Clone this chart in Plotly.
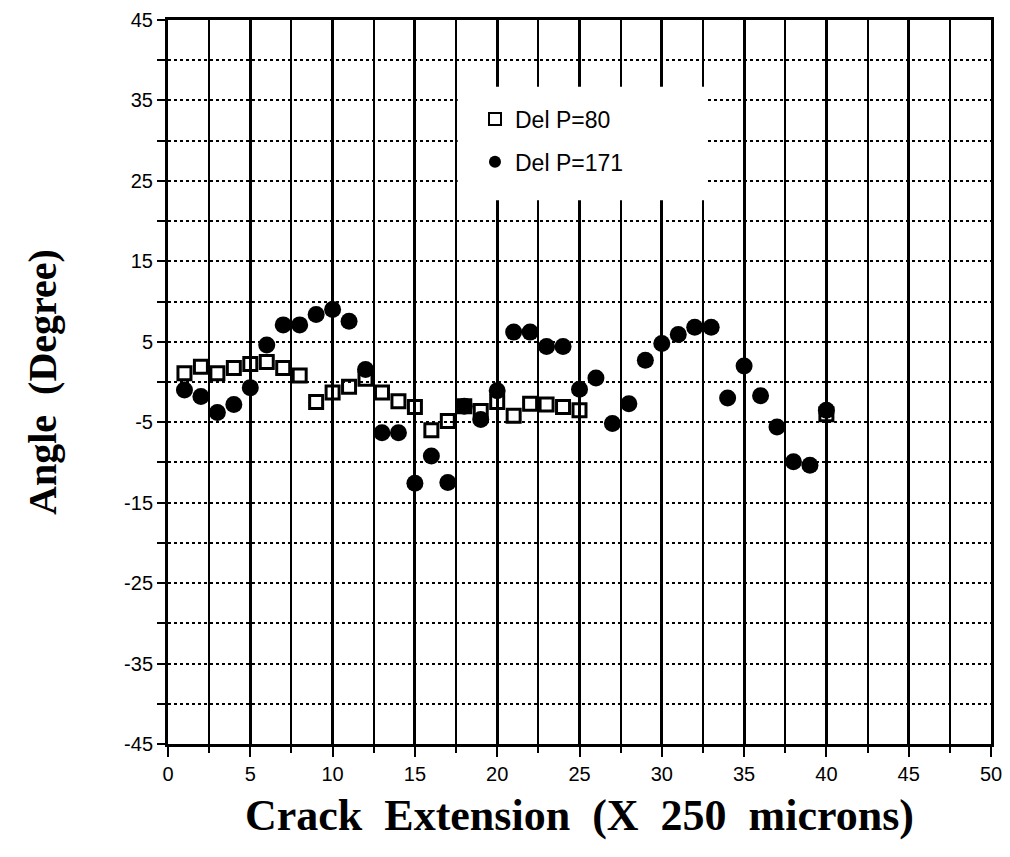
import plotly.graph_objects as go

# Del P = 80 (open squares)
x80 = list(range(1, 26)) + [40]
y80 = [1.1, 1.9, 1.1, 1.75, 2.25, 2.5, 1.75, 0.8, -2.5, -1.3,
       -0.6, 0.4, -1.3, -2.4, -3.1, -6.0, -4.85, -3.0, -3.6, -2.5,
       -4.2, -2.7, -2.8, -3.1, -3.5, -4.0]

# Del P = 171 (filled circles)
x171 = list(range(1, 41))
y171 = [-1.0, -1.8, -3.8, -2.8, -0.7, 4.6, 7.1, 7.1, 8.4, 9.0,
        7.55, 1.55, -6.3, -6.3, -12.6, -9.2, -12.5, -3.0, -4.65, -1.1,
        6.2, 6.2, 4.4, 4.4, -0.9, 0.5, -5.15, -2.7, 2.7, 4.8,
        5.9, 6.8, 6.8, -2.0, 2.0, -1.7, -5.6, -9.9, -10.35, -3.5]

ytick_vals = list(range(-45, 46, 10))
ytick_text = [str(v) for v in ytick_vals]  # plain hyphen minus like the original
xtick_vals = list(range(0, 51, 5))
xtick_text = [str(v) for v in xtick_vals]

fig = go.Figure()

fig.add_trace(go.Scatter(
    x=x80, y=y80, mode="markers", name="Del P=80",
    legendgroup="a",
    marker=dict(symbol="square-open", size=13, color="black",
                line=dict(width=3, color="black")),
))
fig.add_trace(go.Scatter(
    x=x171, y=y171, mode="markers", name="Del P=171",
    legendgroup="b",
    marker=dict(symbol="circle", size=17, color="black"),
))

# white patch behind the legend
fig.add_shape(type="rect", xref="x", yref="y", x0=17.6, x1=32.7, y0=22.6, y1=36.7,
              fillcolor="white", line=dict(width=0), layer="between")

fig.update_layout(
    width=1003, height=849,
    margin=dict(l=160, r=20, t=12, b=113),
    plot_bgcolor="white", paper_bgcolor="white",
    showlegend=True,
    legend=dict(x=0.373, y=0.893, xanchor="left", yanchor="top",
                bgcolor="rgba(0,0,0,0)", font=dict(family="Liberation Sans", size=23, color="black"),
                tracegroupgap=10, itemsizing="constant"),
    font=dict(family="Liberation Sans", color="black"),
)

fig.update_xaxes(
    range=[0, 50], tickvals=xtick_vals, ticktext=xtick_text, automargin=False,
    ticklabeloverflow="allow",
    ticks="outside", ticklen=10, tickwidth=2, tickcolor="black",
    tickfont=dict(family="Liberation Sans", size=20, color="black"),
    showline=True, linewidth=3, linecolor="black", mirror=True,
    showgrid=True, gridcolor="black", gridwidth=2.5,
    minor=dict(dtick=2.5, ticks="outside", ticklen=6, tickwidth=2, tickcolor="black",
               showgrid=True, gridcolor="black", gridwidth=2),
    zeroline=False,
    title=dict(text="Crack  Extension  (X  250  microns)", standoff=16,
               font=dict(family="Liberation Serif", size=44, color="black", weight="bold")),
)

fig.update_yaxes(
    range=[-45, 45], tickvals=ytick_vals, ticktext=ytick_text, automargin=False,
    ticklabeloverflow="allow",
    ticks="outside", ticklen=8, tickwidth=2, tickcolor="black",
    tickfont=dict(family="Liberation Sans", size=20, color="black"),
    showline=True, linewidth=3, linecolor="black", mirror=True,
    showgrid=True, gridcolor="black", gridwidth=2, griddash="dot",
    minor=dict(dtick=5, tick0=-45, ticks="outside", ticklen=8, tickwidth=2, tickcolor="black",
               showgrid=True, gridcolor="black", gridwidth=2, griddash="dot"),
    zeroline=False,
    title=dict(text="Angle  (Degree)", standoff=56,
               font=dict(family="Liberation Serif", size=40, color="black", weight="bold")),
)

fig.write_html("out.html")
